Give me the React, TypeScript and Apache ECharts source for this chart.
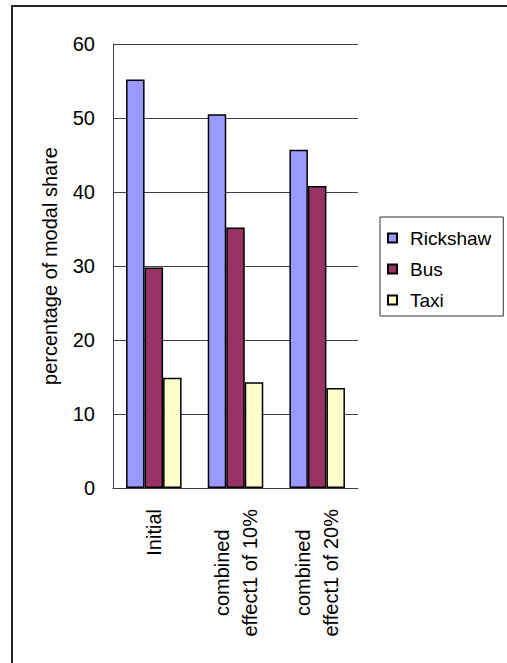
import React, { useEffect, useRef } from "react";
import * as echarts from "echarts";

const categories = ["Initial", "combined\neffect1 of 10%", "combined\neffect1 of 20%"];
const rickshaw = [55.2, 50.5, 45.7];
const bus = [29.8, 35.2, 40.8];
const taxi = [14.9, 14.3, 13.5];
const yTicks = { min: 0, max: 60, interval: 10 };
const seriesNames = ["Rickshaw", "Bus", "Taxi"];
const yName = "percentage of modal share";

const FONT = "'Liberation Sans', Arial, sans-serif";

export default function App() {
  const ref = useRef<HTMLDivElement>(null);
  useEffect(() => {
    if (!ref.current) return;
    const chart = echarts.init(ref.current, undefined, { renderer: "svg" });
    const barStyle = (color: string) => ({ color, borderColor: "#000", borderWidth: 1.5 });
    chart.setOption({
      animation: false,
      backgroundColor: "#fff",
      textStyle: { fontFamily: FONT },
      graphic: [
        {
          type: "rect",
          shape: { x: 12, y: 6, width: 600, height: 700 },
          style: { fill: "none", stroke: "#222", lineWidth: 2 },
          silent: true,
        },
      ],
      grid: { left: 113, top: 44, right: 149, bottom: 175, containLabel: false },
      legend: {
        orient: "vertical",
        left: 380,
        top: 217,
        data: seriesNames,
        icon: "rect",
        itemWidth: 9,
        itemHeight: 9,
        itemGap: 11,
        padding: [11, 12, 6, 7],
        borderColor: "#333",
        borderWidth: 1,
        backgroundColor: "#fff",
        textStyle: { fontSize: 19, color: "#000", fontFamily: FONT, lineHeight: 20, padding: [0, 0, 0, 8] },
      },
      xAxis: {
        type: "category",
        data: categories,
        axisLine: { lineStyle: { color: "#404040", width: 1 } },
        axisTick: { inside: true, length: 6, lineStyle: { color: "#404040" } },
        axisLabel: {
          rotate: 90,
          margin: 21,
          fontSize: 20,
          color: "#000",
          fontFamily: FONT,
          lineHeight: 28,
          formatter: (v: string) =>
            v
              .split("\n")
              .map((s) => "{c|" + s + "}")
              .join("\n"),
          rich: { c: { align: "center", fontSize: 20, lineHeight: 28, fontFamily: FONT, color: "#000" } },
        },
      },
      yAxis: {
        type: "value",
        min: yTicks.min,
        max: yTicks.max,
        interval: yTicks.interval,
        name: yName,
        nameLocation: "middle",
        nameGap: 53,
        nameTextStyle: { fontSize: 20, color: "#000", fontFamily: FONT },
        axisLine: { show: true, lineStyle: { color: "#404040", width: 1 } },
        axisTick: { show: true, inside: true, length: 6, lineStyle: { color: "#404040" } },
        axisLabel: { fontSize: 20, color: "#000", margin: 18, fontFamily: FONT },
        splitLine: { show: true, lineStyle: { color: "#404040", width: 1 } },
      },
      series: [
        { name: seriesNames[0], type: "bar", data: rickshaw, itemStyle: barStyle("#9999FF"), barGap: "0%", barCategoryGap: "32%" },
        { name: seriesNames[1], type: "bar", data: bus, itemStyle: barStyle("#993366"), barGap: "0%", barCategoryGap: "32%" },
        { name: seriesNames[2], type: "bar", data: taxi, itemStyle: barStyle("#FFFFCC"), barGap: "0%", barCategoryGap: "32%" },
      ],
    });
    return () => chart.dispose();
  }, []);
  return (
    <div
      ref={ref}
      style={{ position: "fixed", left: 0, top: 0, width: 507, height: 663 }}
    />
  );
}
